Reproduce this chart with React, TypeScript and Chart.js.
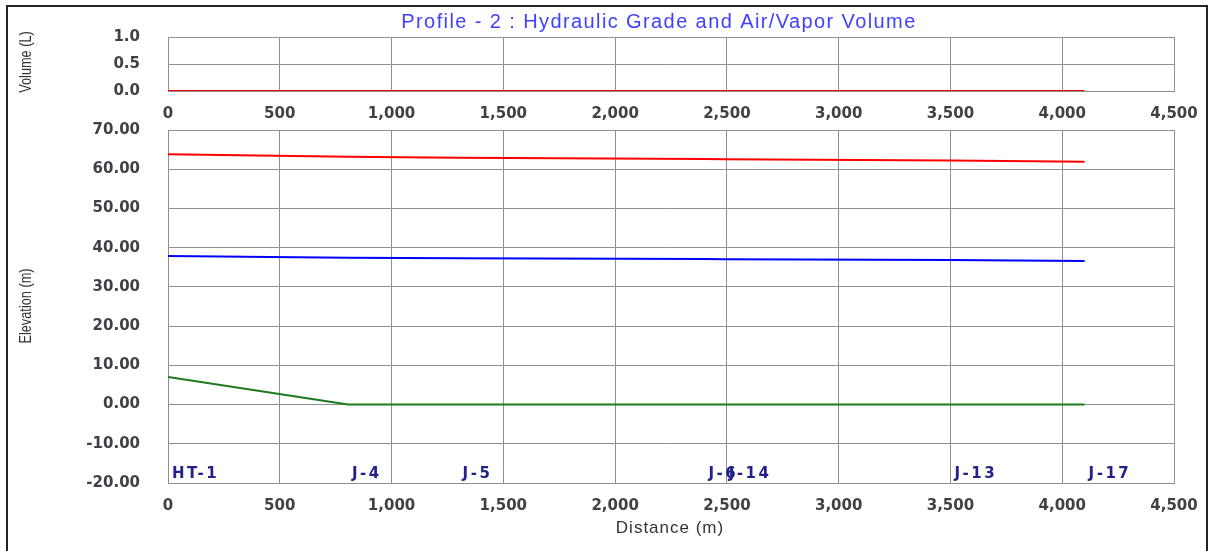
import React, { useEffect, useRef } from "react";
import { Chart, registerables } from "chart.js";

Chart.register(...registerables);

// ---- data ----
const nodeNames = ["HT-1", "J-4", "J-5", "J-6", "J-14", "J-13", "J-17"];
const nodeDistances = [0, 805, 1300, 2400, 2490, 3500, 4100];
const maxHydraulicGrade = [63.8, 63.15, 62.95, 62.6, 62.55, 62.2, 61.9];
const minHydraulicGrade = [37.9, 37.45, 37.3, 37.1, 37.05, 36.85, 36.6];
const groundElevation = [7.0, 0, 0, 0, 0, 0, 0];
const airVaporVolume = [0, 0, 0, 0, 0, 0, 0];

const titleText = "Profile - 2 : Hydraulic Grade and Air/Vapor Volume";
const volumeAxisTitle = "Volume (L)";
const elevationAxisTitle = "Elevation (m)";
const distanceAxisTitle = "Distance (m)";

const W = 1213;
const H = 551;
const GRID = "#8f8f8f";
const TICK_COLOR = "#404048";
const TICK_FONT = { family: "'DejaVu Sans', Verdana, sans-serif", size: 15, weight: "bold" as const };

const pts = (vals: number[]) => nodeDistances.map((d, i) => ({ x: d, y: vals[i] }));
const fmtThousands = (v: number) => Math.round(v).toLocaleString("en-US");

const xScaleBase = (height: number) => ({
  type: "linear" as const,
  position: "bottom" as const,
  min: 0,
  max: 4500,
  afterFit: (s: any) => {
    s.height = height;
  },
  grid: { color: GRID, lineWidth: 1, drawTicks: false },
  border: { color: GRID, width: 1 },
  ticks: {
    stepSize: 500,
    padding: 14,
    color: TICK_COLOR,
    font: TICK_FONT,
    maxRotation: 0,
    autoSkip: false,
    callback: (v: any) => fmtThousands(Number(v)),
  },
});

const yScaleBase = (min: number, max: number, step: number, decimals: number) => ({
  type: "linear" as const,
  min,
  max,
  afterFit: (s: any) => {
    s.width = 168;
  },
  grid: { color: GRID, lineWidth: 1, drawTicks: false },
  border: { color: GRID, width: 1 },
  ticks: {
    stepSize: step,
    padding: 28,
    color: TICK_COLOR,
    font: TICK_FONT,
    autoSkip: false,
    callback: (v: any) => Number(v).toFixed(decimals),
  },
});

const lineDs = (label: string, vals: number[], color: string) => ({
  label,
  data: pts(vals),
  borderColor: color,
  backgroundColor: color,
  borderWidth: 2,
  pointRadius: 0,
  tension: 0,
  fill: false,
});

const drawVerticalTitle = (ctx: any, text: string, x: number, y: number) => {
  ctx.save();
  ctx.fillStyle = "#333333";
  ctx.font = "15px 'Liberation Sans Narrow', 'Liberation Sans', Arial, sans-serif";
  ctx.textAlign = "center";
  ctx.textBaseline = "middle";
  ctx.translate(x, y);
  ctx.rotate(-Math.PI / 2);
  ctx.scale(0.85, 1.05);
  ctx.fillText(text, 0, 0);
  ctx.restore();
};

const topTextPlugin = {
  id: "topText",
  afterDraw(chart: any) {
    const ctx = chart.ctx;
    ctx.save();
    ctx.fillStyle = "#3f3fff";
    ctx.font = "20px 'Liberation Sans', Arial, sans-serif";
    (ctx as any).letterSpacing = "1.4px";
    ctx.textAlign = "center";
    ctx.textBaseline = "middle";
    ctx.fillText(titleText, 659, 22);
    ctx.restore();
    drawVerticalTitle(ctx, volumeAxisTitle, 27, 62);
  },
};

const bottomTextPlugin = {
  id: "bottomText",
  afterDraw(chart: any) {
    const ctx = chart.ctx;
    const xs = chart.scales.x;
    const ys = chart.scales.y;
    ctx.save();
    ctx.fillStyle = "#22228a";
    ctx.font = "bold 15px 'DejaVu Sans', Verdana, sans-serif";
    (ctx as any).letterSpacing = "2.5px";
    ctx.textAlign = "left";
    ctx.textBaseline = "middle";
    const yLab = ys.getPixelForValue(ys.min) - 9;
    nodeNames.forEach((n, i) => {
      ctx.fillText(n, xs.getPixelForValue(nodeDistances[i]) + 4, yLab);
    });
    (ctx as any).letterSpacing = "1px";
    ctx.fillStyle = "#333333";
    ctx.font = "17px 'Liberation Sans', Arial, sans-serif";
    ctx.textAlign = "center";
    ctx.fillText(distanceAxisTitle, 670, 528);
    ctx.restore();
    drawVerticalTitle(ctx, elevationAxisTitle, 27, 306);
  },
};

export default function App() {
  const topRef = useRef<HTMLCanvasElement | null>(null);
  const botRef = useRef<HTMLCanvasElement | null>(null);

  useEffect(() => {
    if (!topRef.current || !botRef.current) return;
    const common = {
      responsive: false,
      animation: false as const,
      devicePixelRatio: 1,
      plugins: { legend: { display: false }, tooltip: { enabled: false }, title: { display: false } },
    };
    const top = new Chart(topRef.current, {
      type: "line",
      data: { datasets: [lineDs("Air/Vapor Volume", airVaporVolume, "#ff0000")] },
      options: {
        ...common,
        layout: { padding: { left: 0, top: 33, right: 39, bottom: H - 91 - 30 } },
        scales: {
          x: xScaleBase(30),
          y: yScaleBase(0, 1, 0.5, 1),
        },
      },
      plugins: [topTextPlugin],
    } as any);
    const bot = new Chart(botRef.current, {
      type: "line",
      data: {
        datasets: [
          lineDs("Maximum Hydraulic Grade", maxHydraulicGrade, "#ff0000"),
          lineDs("Minimum Hydraulic Grade", minHydraulicGrade, "#0000ff"),
          lineDs("Elevation", groundElevation, "#1d7a1d"),
        ],
      },
      options: {
        ...common,
        layout: { padding: { left: 0, top: 130, right: 39, bottom: H - 483 - 30 } },
        scales: {
          x: xScaleBase(30),
          y: yScaleBase(-20, 70, 10, 2),
        },
      },
      plugins: [bottomTextPlugin],
    } as any);
    return () => {
      top.destroy();
      bot.destroy();
    };
  }, []);

  return (
    <div style={{ position: "absolute", left: 0, top: 0, width: W, height: H, background: "#fff", overflow: "hidden" }}>
      <div
        style={{
          position: "absolute",
          left: 6,
          top: 5,
          width: 1202,
          height: 560,
          border: "2px solid #222",
          boxSizing: "border-box",
        }}
      />
      <canvas ref={topRef} width={W} height={H} style={{ position: "absolute", left: 0, top: 0 }} />
      <canvas ref={botRef} width={W} height={H} style={{ position: "absolute", left: 0, top: 0 }} />
    </div>
  );
}
